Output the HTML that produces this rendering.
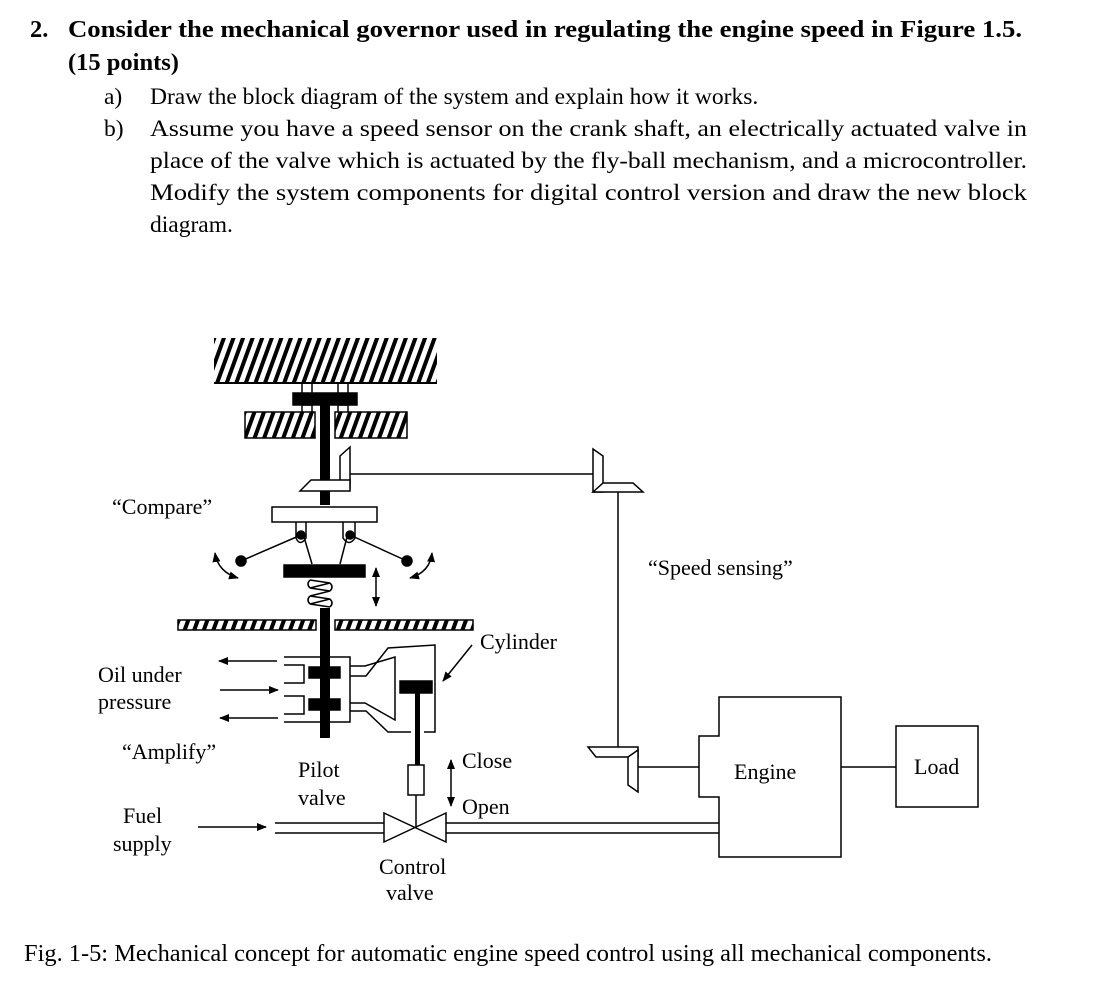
<!DOCTYPE html>
<html><head><meta charset="utf-8"><style>
html,body{margin:0;padding:0;background:#fff;}
svg{display:block;font-family:"Liberation Serif",serif;}
</style></head><body>
<svg width="1098" height="1008" viewBox="0 0 1098 1008" xmlns="http://www.w3.org/2000/svg" font-family="Liberation Serif, serif">
<defs>
<pattern id="h" width="9" height="9" patternUnits="userSpaceOnUse" patternTransform="rotate(20)">
<rect width="9" height="9" fill="#fff"/><rect x="0" y="0" width="4" height="9" fill="#000"/>
</pattern>
<marker id="a" markerWidth="10" markerHeight="8" refX="9" refY="4" orient="auto" markerUnits="userSpaceOnUse"><path d="M0,0 L10,4 L0,8z" fill="#000"/></marker>
<marker id="as" markerWidth="10" markerHeight="8" refX="1" refY="4" orient="auto" markerUnits="userSpaceOnUse"><path d="M10,0 L0,4 L10,8z" fill="#000"/></marker>
</defs>
<g font-size="24.5" font-weight="bold">
<text x="30" y="37">2.</text>
<text x="68" y="37" textLength="954" lengthAdjust="spacingAndGlyphs">Consider the mechanical governor used in regulating the engine speed in Figure 1.5.</text>
<text x="68" y="70">(15 points)</text>
</g>
<g font-size="23.5">
<text x="104" y="104">a)</text>
<text x="150" y="104">Draw the block diagram of the system and explain how it works.</text>
<text x="104" y="136">b)</text>
<text x="150" y="136" textLength="877" lengthAdjust="spacingAndGlyphs">Assume you have a speed sensor on the crank shaft, an electrically actuated valve in</text>
<text x="150" y="168" textLength="877" lengthAdjust="spacingAndGlyphs">place of the valve which is actuated by the fly-ball mechanism, and a microcontroller.</text>
<text x="150" y="200" textLength="877" lengthAdjust="spacingAndGlyphs">Modify the system components for digital control version and draw the new block</text>
<text x="150" y="232">diagram.</text>
<text x="24" y="961" font-size="24" textLength="968" lengthAdjust="spacingAndGlyphs">Fig. 1-5: Mechanical concept for automatic engine speed control using all mechanical components.</text>
</g>

<g stroke="#000" stroke-width="1.5" fill="none">
<rect x="214" y="338" width="223" height="44" fill="url(#h)" stroke="none"/>
<line x1="214" y1="383" x2="437" y2="383" stroke-width="2"/>
<rect x="302" y="383" width="10" height="12"/><rect x="338" y="383" width="10" height="12"/>
<rect x="293" y="393" width="64" height="12" fill="#000"/>
<rect x="302" y="405" width="10" height="8"/><rect x="338" y="405" width="10" height="8"/>
<rect x="245" y="412" width="70" height="26" fill="url(#h)"/>
<rect x="335" y="412" width="72" height="26" fill="url(#h)"/>
<rect x="320" y="405" width="10" height="100" fill="#000" stroke="none"/>
<path d="M340,456 L350,447 L350,488 L340,488z" fill="#fff"/>
<path d="M300,491 L311,480 L350,480 L350,491z" fill="#fff"/>
<line x1="350" y1="474" x2="598" y2="474"/>
<rect x="272" y="507" width="105" height="15" fill="#fff"/>
<path d="M296,522 L296,538 Q300,547 306,538 L306,522" /><path d="M343,522 L343,538 Q349,547 355,538 L355,522"/>
<circle cx="301" cy="535" r="4" fill="#000"/><circle cx="350" cy="535" r="4" fill="#000"/>
<line x1="301" y1="535" x2="241" y2="561"/><line x1="350" y1="535" x2="407" y2="561"/>
<circle cx="241" cy="561" r="5" fill="#000"/><circle cx="407" cy="561" r="5" fill="#000"/>
<line x1="304" y1="537" x2="312" y2="564"/><line x1="347" y1="537" x2="340" y2="564"/>
<rect x="284" y="565" width="81" height="12" fill="#000"/>
<path d="M310,580 L330,583 L310,588 L330,591 L310,596 L330,599 L310,604 L330,607" stroke-width="1.5"/>
<path d="M310,580 Q306,584 310,588 M310,596 Q306,600 310,604 M330,583 Q334,587 330,591 M330,599 Q334,603 330,607"/>
<line x1="376" y1="568" x2="376" y2="606" marker-end="url(#a)" marker-start="url(#as)"/>
<path d="M215,553 Q218,572 238,578" marker-end="url(#a)" marker-start="url(#as)"/>
<path d="M432,553 Q430,572 410,578" marker-end="url(#a)" marker-start="url(#as)"/>
<rect x="178" y="620" width="138" height="10" fill="url(#h)"/>
<rect x="335" y="620" width="138" height="10" fill="url(#h)"/>
<rect x="320" y="608" width="10" height="130" fill="#000" stroke="none"/>
<path d="M284,657 L350,657 L350,722 L284,722"/>
<path d="M284,665 L304,665 L304,683 L284,683"/>
<path d="M284,696 L304,696 L304,714 L284,714"/>
<rect x="309" y="667" width="31" height="11" fill="#000"/>
<rect x="309" y="699" width="31" height="11" fill="#000"/>
<line x1="277" y1="661" x2="219" y2="661" marker-end="url(#a)"/>
<line x1="220" y1="690" x2="278" y2="690" marker-end="url(#a)"/>
<line x1="278" y1="718" x2="220" y2="718" marker-end="url(#a)"/>
<path d="M350,666 L365,666 L395,657 L395,720 L365,703 L350,703"/>
<path d="M350,676 L366,676 L388,648 L435,645 L435,732 L424,732"/>
<path d="M350,711 L366,711 L388,732 L411,732"/>
<rect x="400" y="681" width="32" height="12" fill="#000"/>
<rect x="415" y="693" width="5" height="72" fill="#000" stroke="none"/>
<rect x="408" y="765" width="16" height="30" fill="#fff"/>
<line x1="416" y1="795" x2="416" y2="827"/>
<path d="M384,813 L446,842 L446,813 L384,842z" fill="#fff"/>
<line x1="472" y1="645" x2="443" y2="681" marker-end="url(#a)"/>
<line x1="451" y1="760" x2="451" y2="806" marker-end="url(#a)" marker-start="url(#as)"/>
<line x1="198" y1="827" x2="266" y2="827" marker-end="url(#a)"/>
<line x1="275" y1="823" x2="384" y2="823"/><line x1="275" y1="833" x2="384" y2="833"/>
<line x1="446" y1="823" x2="719" y2="823"/><line x1="446" y1="833" x2="719" y2="833"/>
<path d="M593,449 L603,456 L603,492 L593,492z" fill="#fff"/>
<path d="M593,492 L603,483 L633,483 L643,492z" fill="#fff"/>
<line x1="618" y1="492" x2="618" y2="747"/>
<path d="M588,747 L638,747 L638,757 L596,757z" fill="#fff"/>
<path d="M628,757 L638,750 L638,792 L628,785z" fill="#fff"/>
<line x1="638" y1="767" x2="699" y2="767"/>
<path d="M719,697 L841,697 L841,857 L719,857 L719,797 L699,797 L699,736 L719,736z"/>
<line x1="841" y1="767" x2="896" y2="767"/>
<rect x="896" y="726" width="82" height="81"/>
</g>
<g font-size="22">
<text x="112" y="514">“Compare”</text>
<text x="648" y="575">“Speed sensing”</text>
<text x="480" y="649">Cylinder</text>
<text x="98" y="682">Oil under</text>
<text x="98" y="709">pressure</text>
<text x="122" y="759">“Amplify”</text>
<text x="298" y="777">Pilot</text>
<text x="298" y="805">valve</text>
<text x="462" y="768">Close</text>
<text x="462" y="814">Open</text>
<text x="123" y="823">Fuel</text>
<text x="113" y="851">supply</text>
<text x="379" y="874">Control</text>
<text x="386" y="900">valve</text>
<text x="734" y="779">Engine</text>
<text x="914" y="774">Load</text>
</g>
</svg>
</body></html>
